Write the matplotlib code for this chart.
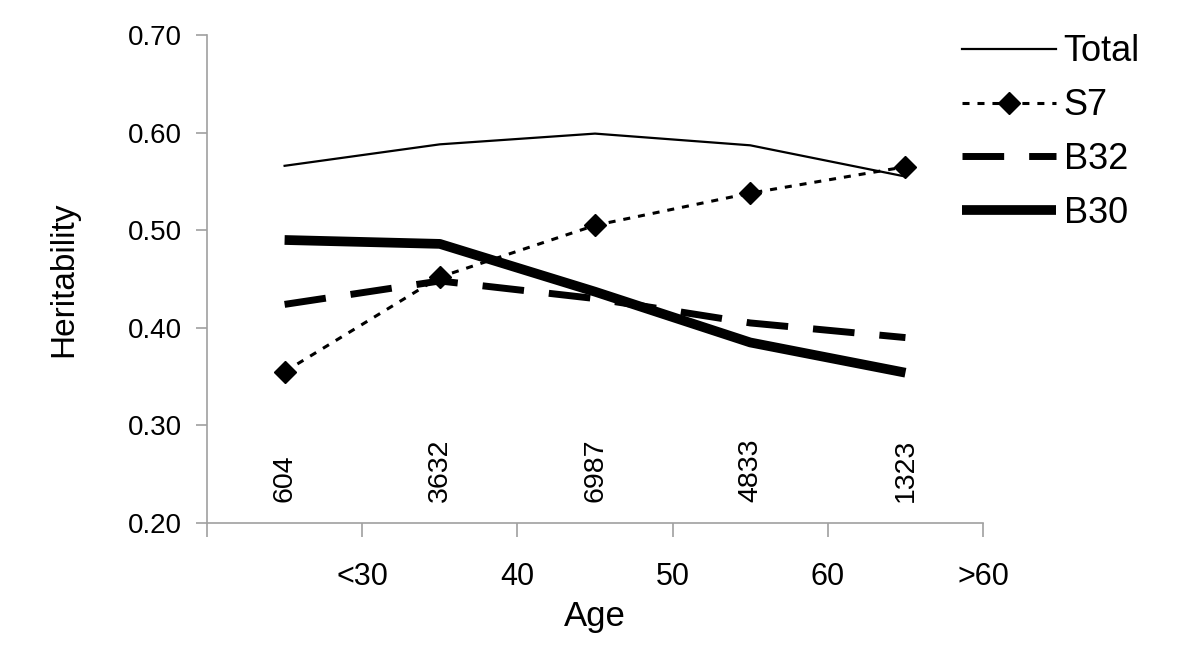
import matplotlib.pyplot as plt

plt.rcParams['font.family'] = ['Liberation Sans', 'DejaVu Sans']

age_labels = ["", "<30", "40", "50", "60", ">60"]
counts = ["604", "3632", "6987", "4833", "1323"]

total = [0.566, 0.588, 0.599, 0.587, 0.555]
s7 = [0.355, 0.452, 0.505, 0.538, 0.565]
b32 = [0.424, 0.448, 0.430, 0.405, 0.390]
b30 = [0.490, 0.486, 0.437, 0.385, 0.354]

grey = "#a0a0a0"

fig = plt.figure(figsize=(12, 6.66), dpi=100)
ax = fig.add_axes([0.1725, 0.2147, 0.6467, 0.7327])

x = list(range(len(total)))
ax.plot(x, total, color="black", lw=1.6, label="Total")
ax.plot(x, s7, color="black", lw=2.2, dashes=(2.3, 2.6), marker="D", markersize=11,
        label="S7")
ax.plot(x, b32, color="black", lw=5, dashes=(6, 3.6), label="B32")
ax.plot(x, b30, color="black", lw=7, solid_capstyle="butt", label="B30")

# sample sizes per age group
for i, c in enumerate(counts):
    ax.text(i, 0.2215, c, rotation=90, ha="center", va="bottom", fontsize=20.5)

ax.set_xlim(-0.5, 4.5)
ax.set_ylim(0.2, 0.7)
ax.set_xticks([i - 0.5 for i in range(len(age_labels))])
ax.set_xticklabels(age_labels)
ax.set_yticks([0.2, 0.3, 0.4, 0.5, 0.6, 0.7])
ax.set_yticklabels(["%.2f" % v for v in [0.2, 0.3, 0.4, 0.5, 0.6, 0.7]])
ax.tick_params(axis="both", colors=grey, labelcolor="black", width=1.2)
ax.tick_params(axis="y", length=8, pad=10, labelsize=20)
ax.tick_params(axis="x", length=10, pad=18, labelsize=22)

for s in ["top", "right"]:
    ax.spines[s].set_visible(False)
for s in ["left", "bottom"]:
    ax.spines[s].set_color(grey)
    ax.spines[s].set_linewidth(1.2)

ax.set_xlabel("Age", fontsize=25, labelpad=6)
ax.set_ylabel("Heritability", fontsize=24, labelpad=35)

ax.legend(loc="upper left", bbox_to_anchor=(0.79, 0.97), bbox_transform=fig.transFigure,
          frameon=False, fontsize=26, handlelength=2.6, handletextpad=0.2,
          labelspacing=0.52, borderaxespad=0)

fig.savefig("out.png", dpi=100)
